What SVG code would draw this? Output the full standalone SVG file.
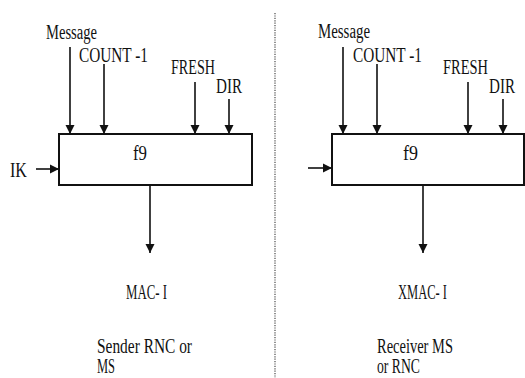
<svg xmlns="http://www.w3.org/2000/svg" width="525" height="378" viewBox="0 0 525 378">
<style>
text{font-family:"Liberation Serif",serif;font-size:20px;fill:#111}
.box{fill:#fff;stroke:#111;stroke-width:2}
.c{stroke:#111;stroke-width:1.6;fill:none;marker-end:url(#ah)}
</style>
<defs>
<marker id="ah" viewBox="0 0 10 10" refX="10" refY="5" markerWidth="9" markerHeight="10" markerUnits="userSpaceOnUse" orient="auto">
<path d="M0,0 L10,5 L0,10 Z" fill="#111"/>
</marker>
</defs>
<rect width="525" height="378" fill="#fff"/>
<line x1="275" y1="13" x2="275" y2="378" stroke="#777" stroke-width="1.6" stroke-dasharray="1.2,1.2"/>
<g id="connectors">
<line class="c" x1="70" y1="47" x2="70" y2="134"/>
<line class="c" x1="104" y1="64" x2="104" y2="134"/>
<line class="c" x1="195" y1="82" x2="195" y2="134"/>
<line class="c" x1="229" y1="99" x2="229" y2="134"/>
<line class="c" x1="36" y1="169" x2="59" y2="169"/>
<line class="c" x1="150" y1="185" x2="150" y2="253"/>
<line class="c" x1="343" y1="47" x2="343" y2="134"/>
<line class="c" x1="377" y1="64" x2="377" y2="134"/>
<line class="c" x1="468" y1="82" x2="468" y2="134"/>
<line class="c" x1="503" y1="99" x2="503" y2="134"/>
<line class="c" x1="308" y1="168" x2="332" y2="168"/>
<line class="c" x1="423" y1="185" x2="423" y2="253"/>
</g>
<g id="f9-sender">
<rect class="box" x="59" y="134" width="193" height="51"/>
<text x="133" y="160" textLength="14" lengthAdjust="spacingAndGlyphs">f9</text>
</g>
<g id="f9-receiver">
<rect class="box" x="332" y="134" width="192" height="51"/>
<text x="403" y="160" textLength="15" lengthAdjust="spacingAndGlyphs">f9</text>
</g>
<g id="labels-sender">
<text x="46" y="39" textLength="51" lengthAdjust="spacingAndGlyphs">Message</text>
<text x="79" y="62" textLength="69" lengthAdjust="spacingAndGlyphs">COUNT -1</text>
<text x="171" y="74" textLength="44" lengthAdjust="spacingAndGlyphs">FRESH</text>
<text x="216" y="93" textLength="26" lengthAdjust="spacingAndGlyphs">DIR</text>
<text x="10" y="177" textLength="17" lengthAdjust="spacingAndGlyphs">IK</text>
<text x="126" y="299" textLength="41" lengthAdjust="spacingAndGlyphs">MAC- I</text>
<text x="97" y="353" textLength="95" lengthAdjust="spacingAndGlyphs">Sender RNC or</text>
<text x="97" y="373" textLength="18" lengthAdjust="spacingAndGlyphs">MS</text>
</g>
<g id="labels-receiver">
<text x="318" y="38" textLength="52" lengthAdjust="spacingAndGlyphs">Message</text>
<text x="353" y="62" textLength="69" lengthAdjust="spacingAndGlyphs">COUNT -1</text>
<text x="443" y="74" textLength="45" lengthAdjust="spacingAndGlyphs">FRESH</text>
<text x="489" y="93" textLength="26" lengthAdjust="spacingAndGlyphs">DIR</text>
<text x="398" y="299" textLength="49" lengthAdjust="spacingAndGlyphs">XMAC- I</text>
<text x="377" y="353" textLength="76" lengthAdjust="spacingAndGlyphs">Receiver MS</text>
<text x="377" y="373" textLength="43" lengthAdjust="spacingAndGlyphs">or RNC</text>
</g>
</svg>
